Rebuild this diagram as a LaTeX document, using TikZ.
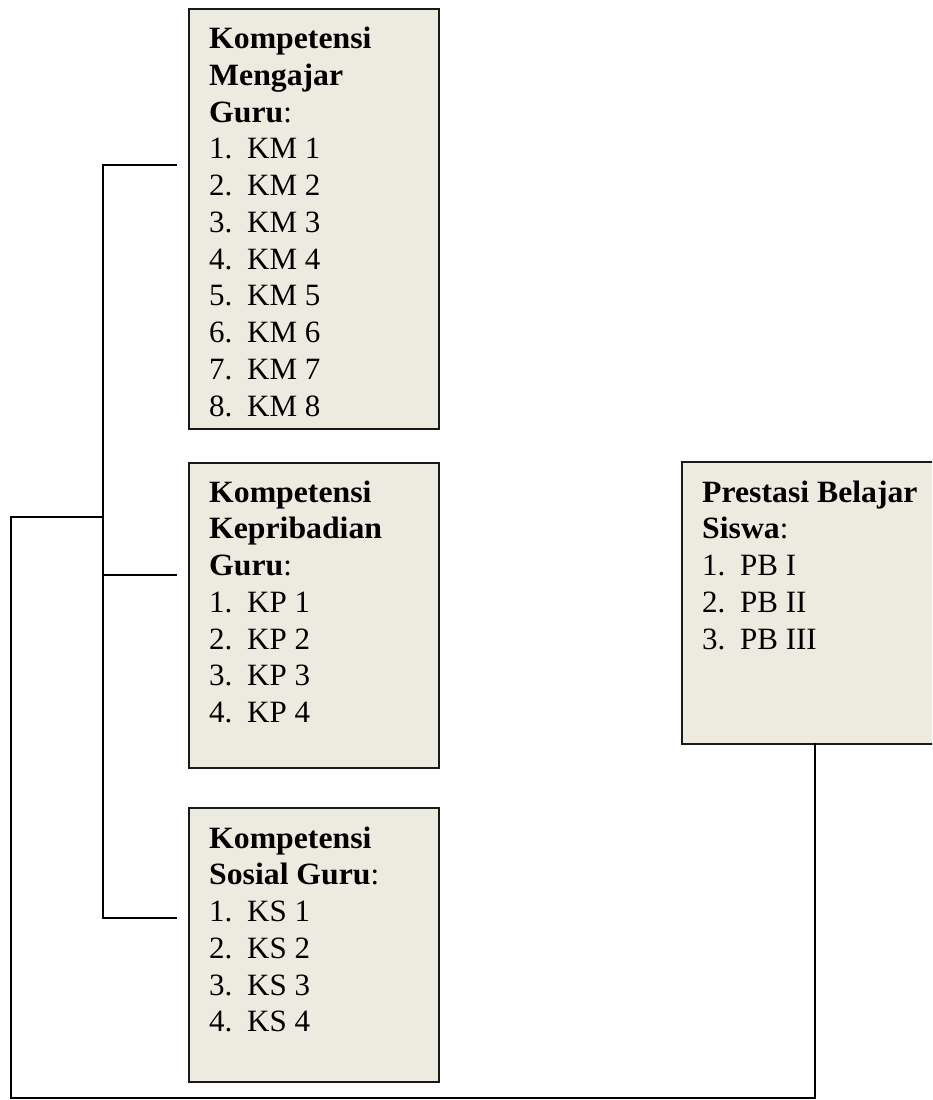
\documentclass[tikz,border=0pt]{standalone}
\usepackage{fontspec}
\setmainfont{Liberation Serif}[BoldFeatures={FakeStretch=1.024}]
\usetikzlibrary{calc}
\definecolor{boxfill}{RGB}{237,235,224}
\definecolor{boxline}{RGB}{25,25,25}
\tikzset{
  panel/.style={draw=boxline, line width=1.6pt, fill=boxfill, rectangle, inner sep=0pt, anchor=north west},
  paneltext/.style={anchor=north west, inner sep=0pt, align=left, font=\fontsize{31}{36.75}\selectfont},
  link/.style={draw=black, line width=1.5pt}
}
\newcommand{\itm}[2]{\makebox[38pt][l]{#1}#2}
\newcommand{\firstline}{\rule{0pt}{25pt}}
\begin{document}
\begin{tikzpicture}[x=1pt,y=-1pt]
\clip (0,0) rectangle (932,1100);
\fill[white] (0,0) rectangle (932,1100);

% boxes
\node[panel, minimum width=250pt, minimum height=420pt] (km) at (188,8) {};
\node[panel, minimum width=250pt, minimum height=305pt] (kp) at (188,462) {};
\node[panel, minimum width=250pt, minimum height=274pt] (ks) at (188,807) {};
\node[panel, minimum width=268pt, minimum height=282pt] (pb) at (681,461) {};

% texts
\node[paneltext] (kmt) at (209,23.5) {\firstline\textbf{Kompetensi}\\\textbf{Mengajar}\\\textbf{Guru}:\\
\itm{1.}{KM 1}\\\itm{2.}{KM 2}\\\itm{3.}{KM 3}\\\itm{4.}{KM 4}\\\itm{5.}{KM 5}\\\itm{6.}{KM 6}\\\itm{7.}{KM 7}\\\itm{8.}{KM 8}};
\node[paneltext] (kpt) at (209,477) {\firstline\textbf{Kompetensi}\\\textbf{Kepribadian}\\\textbf{Guru}:\\
\itm{1.}{KP 1}\\\itm{2.}{KP 2}\\\itm{3.}{KP 3}\\\itm{4.}{KP 4}};
\node[paneltext] (kst) at (209,823) {\firstline\textbf{Kompetensi}\\\textbf{Sosial Guru}:\\
\itm{1.}{KS 1}\\\itm{2.}{KS 2}\\\itm{3.}{KS 3}\\\itm{4.}{KS 4}};
\node[paneltext] (pbt) at (702,477) {\firstline\textbf{Prestasi Belajar}\\\textbf{Siswa}:\\
\itm{1.}{PB I}\\\itm{2.}{PB II}\\\itm{3.}{PB III}};

% connector coordinates
\coordinate (tkm) at ($(km.north west)+(-11,157)$);
\coordinate (tkp) at ($(kp.north west)+(-11,113)$);
\coordinate (tks) at ($(ks.north west)+(-11,111)$);
\coordinate (trunktop) at (103,165);
\coordinate (trunkmid) at (103,575);
\coordinate (trunkbot) at (103,918);
\coordinate (junction) at (103,517);
\coordinate (outerleft) at (11,517);
\coordinate (outerbot) at (11,1098);
\coordinate (rightbot) at (815,1098);
\coordinate (pbfoot) at (815,743);

\draw[link] (tkm) -- (trunktop) -- (trunkbot) -- (tks);
\draw[link] (trunkmid) -- (tkp);
\draw[link] (junction) -- (outerleft) -- (outerbot) -- (rightbot) -- (pbfoot);
\end{tikzpicture}
\end{document}
